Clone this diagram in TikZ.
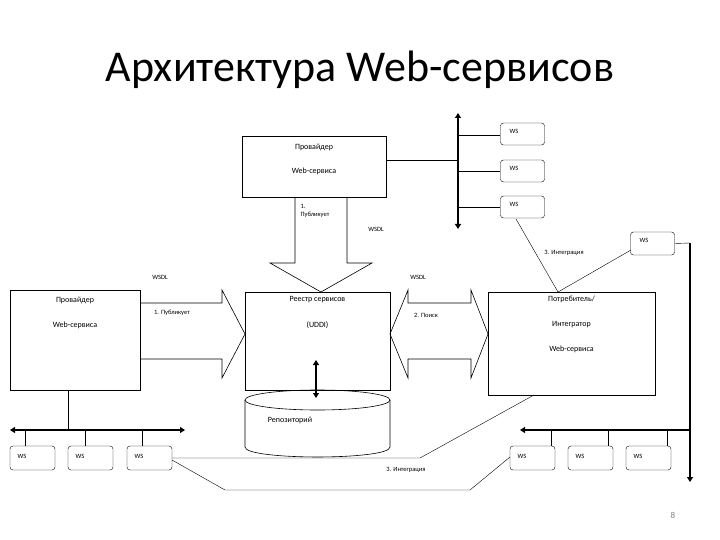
\documentclass[tikz,border=0pt]{standalone}
\usepackage{fontspec}
\setmainfont{Carlito}
\usetikzlibrary{arrows.meta}
\begin{document}
\begin{tikzpicture}[x=1pt,y=-1pt,
 box/.style={draw,line width=0.8pt,inner sep=0},
 ws/.style={draw,rounded corners=3pt,minimum width=44pt,minimum height=22pt,inner sep=0},
 lbl/.style={font=\fontsize{8}{9}\selectfont},
 sm/.style={font=\fontsize{6.5}{7}\selectfont},
 bus/.style={line width=1.8pt,-{Triangle[length=5pt,width=6pt]}},
 dbus/.style={line width=1.8pt,{Triangle[length=5pt,width=6pt]}-{Triangle[length=5pt,width=6pt]}},
 big/.style={draw,line width=0.6pt}]
\useasboundingbox (0,0) rectangle (720,540);
\node[font=\fontsize{44}{48}\selectfont] (title) at (360,70) {Архитектура Web-сервисов};
% top provider
\node[box,minimum width=144pt,minimum height=61pt] (tp) at (314,166.5) {};
\node[lbl] (tp1) at (314,147) {Провайдер};
\node[lbl] (tp2) at (314,171) {Web-сервиса};
% registry, provider, consumer
\node[box,minimum width=145pt,minimum height=98pt] (reg) at (317.5,341) {};
\node[lbl] (reg1) at (317.5,300) {Реестр сервисов};
\node[lbl] (reg2) at (317.5,325) {(UDDI)};
\node[box,minimum width=130pt,minimum height=100pt] (lp) at (75,340) {};
\node[lbl] (lp1) at (75,300) {Провайдер};
\node[lbl] (lp2) at (75,325) {Web-сервиса};
\node[box,minimum width=167pt,minimum height=103pt] (con) at (571.5,343.5) {};
\node[lbl] (c1) at (571.5,299) {Потребитель/};
\node[lbl] (c2) at (571.5,325) {Интегратор};
\node[lbl] (c3) at (571.5,349) {Web-сервиса};
% big arrows
\draw[big] (295,197) -- (295,263) -- (270,263) -- (321,292) -- (372,263) -- (347,263) -- (347,197);
\draw[big] (140,303) -- (222,303) -- (222,290) -- (245,334) -- (222,378) -- (222,359) -- (140,359);
\draw[big] (390,334) -- (408,290) -- (408,303) -- (471,303) -- (471,290) -- (488,334) -- (471,378) -- (471,359) -- (408,359) -- (408,378) -- cycle;
\node[sm,anchor=west] (p1) at (297,206) {1.};
\node[sm,anchor=west] (p2) at (297,215) {Публикует};
\node[sm] (w1) at (376,229) {WSDL};
\node[sm] (w2) at (160,277) {WSDL};
\node[sm] (w3) at (418,277) {WSDL};
\node[sm] (p3) at (172,313) {1. Публикует};
\node[sm] (p4) at (426,315) {2. Поиск};
% top bus
\coordinate (tb1) at (458,113); \coordinate (tb2) at (458,229);
\draw[dbus] (tb1) -- (tb2);
\node[ws] (t1) at (522.5,134) {}; \node[sm] at (514,131) {WS};
\node[ws] (t2) at (522.5,171) {}; \node[sm] at (514,168) {WS};
\node[ws] (t3) at (522.5,207) {}; \node[sm] at (514,204) {WS};
\draw (tp.east |- 0,160) -- (458,160);
\draw (458,135) -- (t1.west |- 0,135);
\draw (458,171) -- (t2.west);
\draw (458,207) -- (t3.west |- 0,207);
\node[ws,minimum height=23pt] (t4) at (652.5,243.5) {}; \node[sm] at (644,240) {WS};
% right vertical bus
\coordinate (rv1) at (690,243); \coordinate (rv2) at (690,482);
\draw (t4.east) -- (rv1);
\draw[bus] (rv1) -- (rv2);
\coordinate (cj) at (558,292);
\draw (516,219) -- (cj) -- (631,250);
\node[sm] (i1) at (564,253) {3. Интеграция};
% cylinder
\draw[line width=0.6pt] (245,400) -- (245,447) .. controls (245,460.3) and (390,460.3) .. (390,447) -- (390,400);
\draw[line width=0.6pt] (317.5,400) ellipse[x radius=72.5,y radius=10];
\node[lbl] (rep) at (290,420) {Репозиторий};
% registry to repository
\draw[dbus] (316,360) -- (316,398);
% left bus
\coordinate (lb1) at (10,430); \coordinate (lb2) at (185,430);
\draw[dbus] (lb1) -- (lb2);
\draw (68,390) -- (68,430);
\node[ws,minimum width=45pt,minimum height=24pt] (l1) at (32.5,458) {}; \node[sm] at (22,456) {WS};
\node[ws,minimum width=45pt,minimum height=24pt] (l2) at (90.5,458) {}; \node[sm] at (80,456) {WS};
\node[ws,minimum width=45pt,minimum height=24pt] (l3) at (149.5,458) {}; \node[sm] at (139,456) {WS};
\draw (25,430) -- (25,446); \draw (85,430) -- (85,446); \draw (142,430) -- (142,446);
% right bus
\coordinate (rb1) at (520,430);
\draw[bus] (690,430) -- (rb1);
\node[ws,minimum width=45pt,minimum height=24pt] (r1) at (532.5,458) {}; \node[sm] at (522,456) {WS};
\node[ws,minimum width=45pt,minimum height=24pt] (r2) at (590.5,458) {}; \node[sm] at (580,456) {WS};
\node[ws,minimum width=45pt,minimum height=24pt] (r3) at (648.5,458) {}; \node[sm] at (638,456) {WS};
\draw (551,430) -- (551,446); \draw (608,430) -- (608,446); \draw (667,430) -- (667,446);
% integration lines
\draw (172,458) -- (420,458) -- (534,395);
\draw (172,460) -- (225,490) -- (470,490) -- (510,457);
\node[sm] (i2) at (406,470) {3. Интеграция};
\node[font=\fontsize{9}{10}\selectfont,text=gray] (pg) at (673,515) {8};
\end{tikzpicture}
\end{document}
